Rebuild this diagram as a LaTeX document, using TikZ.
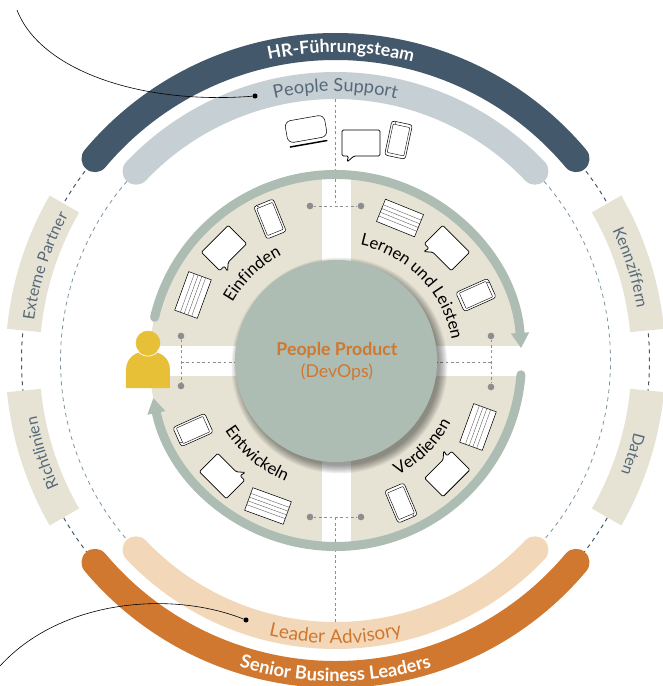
\documentclass[tikz,border=0pt]{standalone}
\usepackage{fontspec}
\setmainfont{Lato}
\usetikzlibrary{arrows.meta}
\usetikzlibrary{decorations.text}

\definecolor{hrblue}{HTML}{43586A}
\definecolor{supportgrey}{HTML}{C6CFD3}
\definecolor{leaderorange}{HTML}{D07730}
\definecolor{advisorypeach}{HTML}{F2D7B8}
\definecolor{sandbeige}{HTML}{E6E3D4}
\definecolor{sagegreen}{HTML}{ADBDB4}
\definecolor{persongold}{HTML}{E8C037}
\definecolor{dotgrey}{HTML}{8D8D90}
\definecolor{labelblue}{HTML}{56697A}
\definecolor{ringdash}{HTML}{7D95A1}

\tikzset{
    bandline/.style={line width=20.25pt,line cap=round},
    ringline/.style={sagegreen,line width=6.75pt,line cap=round},
    sidebox/.style={fill=sandbeige,draw=none},
    graydash/.style={dotgrey,line width=0.6pt,dash pattern=on 2pt off 2pt},
    outerdash/.style={hrblue,line width=0.75pt,dash pattern=on 3pt off 3pt},
    innerdash/.style={ringdash,line width=0.6pt,dash pattern=on 3pt off 3pt},
    greydot/.style={circle,fill=dotgrey,inner sep=0pt,minimum size=5pt},
    blackdot/.style={circle,fill=black,inner sep=0pt,minimum size=3.8pt},
    arctext/.style 2 args={decorate,decoration={text along path,text align=center,text={|#1|#2}}},
    notepic/.pic={
        \draw[fill=white,line width=0.4pt] (-20.5,-12) rectangle (20.5,12);
        \foreach \y in {-6,-2,2,6}
            \draw[line width=0.25pt,black!70] (-20.5,\y) -- (20.5,\y);
    },
    bubblepic/.pic={
        \draw[fill=white,line width=0.6pt,rounded corners=1pt]
            (-19,-13) -- (-19,13) -- (19,13) -- (19,-13) -- (-7,-13) -- (-14,-19) -- (-12.5,-13) -- cycle;
    },
    phonepic/.pic={
        \draw[fill=white,line width=0.4pt,rounded corners=2pt] (-10.5,-17.5) rectangle (10.5,17.5);
        \draw[line width=0.3pt,rounded corners=0.6pt] (-8.5,-14.5) rectangle (8.5,14.5);
        \fill (-6.5,16) circle (0.7);
    },
    laptoppic/.pic={
        \draw[fill=white,line width=0.4pt,rounded corners=4.5pt] (-20,-11) rectangle (20,11);
        \draw[line width=1.1pt] (-19,-15) -- (19,-15);
    }
}

\newcommand{\boxfont}{\fontsize{12pt}{14pt}\selectfont\color{labelblue}}
\newcommand{\stepfont}{\fontsize{12.5pt}{15pt}\selectfont\color{black}}

\begin{document}
\begin{tikzpicture}[x=0.75pt,y=0.75pt]
    \useasboundingbox (-335.5,-325.5) rectangle (326.5,360.5);

    % Dashed rings behind everything
    \draw[outerdash] (140:314) arc[start angle=140,end angle=220,radius=314];
    \draw[outerdash] (40:314) arc[start angle=40,end angle=-40,radius=314];
    \draw[innerdash] (136:275) arc[start angle=136,end angle=224,radius=275];
    \draw[innerdash] (44:275) arc[start angle=44,end angle=-44,radius=275];

    % The four outer boxes
    \fill[sidebox] (150:296) arc[start angle=150,end angle=174.5,radius=296] -- (174.5:330) arc[start angle=174.5,end angle=150,radius=330] -- cycle;
    \fill[sidebox] (185.5:296) arc[start angle=185.5,end angle=210,radius=296] -- (210:330) arc[start angle=210,end angle=185.5,radius=330] -- cycle;
    \fill[sidebox] (30:296) arc[start angle=30,end angle=5.5,radius=296] -- (5.5:330) arc[start angle=5.5,end angle=30,radius=330] -- cycle;
    \fill[sidebox] (-5.5:296) arc[start angle=-5.5,end angle=-30,radius=296] -- (-30:330) arc[start angle=-30,end angle=-5.5,radius=330] -- cycle;

    % The bands
    \draw[bandline,hrblue] (140:314) arc[start angle=140,end angle=40,radius=314];
    \draw[bandline,supportgrey] (136.5:275) arc[start angle=136.5,end angle=43.5,radius=275];
    \draw[bandline,leaderorange] (220:314) arc[start angle=220,end angle=320,radius=314];
    \draw[bandline,advisorypeach] (223.5:275) arc[start angle=223.5,end angle=316.5,radius=275];

    % Beige disc, cut by the white cross
    \fill[sandbeige] (0,0) circle (186);
    \fill[white] (-13.5,-200) rectangle (16,200);
    \fill[white] (-200,-15.5) rectangle (200,14.5);

    % Dots and the dashed lines between them
    \node[greydot] (dottl) at (-25.5,154.5) {};
    \node[greydot] (dottr) at (25.5,154.5) {};
    \node[greydot] (dotbl) at (-25.5,-156.5) {};
    \node[greydot] (dotbr) at (25.5,-156.5) {};
    \node[greydot] (dotlt) at (-154.5,24.5) {};
    \node[greydot] (dotlb) at (-154.5,-25.5) {};
    \node[greydot] (dotrt) at (155.5,24.5) {};
    \node[greydot] (dotrb) at (155.5,-26.5) {};
    \coordinate (jointop) at (-0.5,154.5);
    \coordinate (joinbot) at (-0.5,-156.5);
    \coordinate (joinleft) at (-154.5,-1.5);
    \coordinate (joinright) at (155.5,-1.5);
    \coordinate (bandtop) at (-0.5,261);
    \coordinate (bandbot) at (-0.5,-261);
    \coordinate (hubleft) at (-95,-1.5);
    \coordinate (hubright) at (95,-1.5);
    \draw[graydash] (dottl) -- (dottr);
    \draw[graydash] (dotbl) -- (dotbr);
    \draw[graydash] (dotlt) -- (dotlb);
    \draw[graydash] (dotrt) -- (dotrb);
    \draw[graydash] (bandtop) -- (jointop);
    \draw[graydash] (bandbot) -- (joinbot);
    \draw[graydash] (joinleft) -- (hubleft);
    \draw[graydash] (joinright) -- (hubright);

    % The ring with its two arrows
    \draw[ringline,-{Triangle[length=11.5pt,width=13pt]}] (166.6:186) arc[start angle=166.6,end angle=3.8,radius=186];
    \draw[ringline,-{Triangle[length=11.5pt,width=13pt]}] (-4.4:186) arc[start angle=-4.4,end angle=-168.4,radius=186];

    % Hub with its soft shadow
    \foreach \r in {1,...,9}
        \fill[black,opacity=0.05] (4,-5) circle (99+\r);
    \node[circle,fill=sagegreen,inner sep=0pt,minimum size=151.5pt] (hub) at (0.5,-0.5) {};
    \node[text=leaderorange,font=\fontsize{13.3pt}{15pt}\selectfont\bfseries] (hubtitle) at (1.5,10.5) {People Product};
    \node[text=leaderorange,font=\fontsize{13.3pt}{15pt}\selectfont] (hubsub) at (1.5,-11.5) {(DevOps)};

    % The person
    \fill[persongold] (-209.5,-27.5) -- (-209.5,-9.5) .. controls (-209.5,4) and (-198,9.5) .. (-187.5,9.5) .. controls (-177,9.5) and (-165.5,4) .. (-165.5,-9.5) -- (-165.5,-27.5) -- cycle;
    \draw[persongold,fill=persongold] (-187.5,17.5) circle (12);
    \draw[white,line width=0.5pt] (-199,11) arc[start angle=209,end angle=331,radius=13];

    % Icons above the ring
    \pic[rotate=10] at (-29.5,231.5) {laptoppic};
    \pic at (25.5,217.5) {bubblepic};
    \pic[rotate=-12] at (63,220.5) {phonepic};

    % Icons per quadrant
    \pic[rotate=70] at (-142.5,65.5) {notepic};
    \pic[rotate=45] at (-111.5,112.5) {bubblepic};
    \pic[rotate=22] at (-65.5,141.5) {phonepic};
    \pic[rotate=-22] at (64.5,142.5) {notepic};
    \pic[rotate=-45] at (111.5,112.5) {bubblepic};
    \pic[rotate=-66] at (140.5,65.5) {phonepic};
    \pic[rotate=70] at (142.5,-66.5) {notepic};
    \pic[rotate=225] at (111.8,-113.5) {bubblepic};
    \pic[rotate=203] at (65.5,-142.5) {phonepic};
    \pic[rotate=-20] at (-67.5,-145.5) {notepic};
    \pic[rotate=135] at (-113.5,-115.5) {bubblepic};
    \pic[rotate=114] at (-142.5,-69.5) {phonepic};

    % Text on the bands
    \path[arctext={\fontsize{13.3pt}{15pt}\selectfont\bfseries\color{white}}{HR-Führungsteam}] (139:308) arc[start angle=139,end angle=39,radius=308];
    \path[arctext={\fontsize{13.6pt}{15pt}\selectfont\color{labelblue}}{People Support}] (140:269) arc[start angle=140,end angle=40,radius=269];
    \path[arctext={\fontsize{14.2pt}{15pt}\selectfont\color{leaderorange}}{Leader Advisory}] (225:283) arc[start angle=225,end angle=315,radius=283];
    \path[arctext={\fontsize{13.7pt}{15pt}\selectfont\bfseries\color{white}}{Senior Business Leaders}] (225:321) arc[start angle=225,end angle=315,radius=321];

    % Text on the boxes
    \path[arctext={\boxfont}{Externe Partner}] (182:304) arc[start angle=182,end angle=142,radius=304];
    \path[arctext={\boxfont}{Richtlinien}] (217.5:304) arc[start angle=217.5,end angle=177.5,radius=304];
    \path[arctext={\boxfont}{Kennziffern}] (37.5:306) arc[start angle=37.5,end angle=-2.5,radius=306];
    \path[arctext={\boxfont}{Daten}] (2.5:307) arc[start angle=2.5,end angle=-37.5,radius=307];

    % Text in the quadrants
    \path[arctext={\stepfont}{Einfinden}] (179:118) arc[start angle=179,end angle=89,radius=118];
    \path[arctext={\stepfont}{Lernen und Leisten}] (89:118) arc[start angle=89,end angle=-1,radius=118];
    \path[arctext={\stepfont}{Verdienen}] (-90:131) arc[start angle=-90,end angle=0,radius=131];
    \path[arctext={\stepfont}{Entwickeln}] (185:131) arc[start angle=185,end angle=275,radius=131];

    % The two thin curves with their dots
    \node[blackdot] (supportdot) at (-80.5,264.5) {};
    \node[blackdot] (advisorydot) at (-89.5,-259.5) {};
    \coordinate (supportend) at (-318.5,350.5);
    \coordinate (advisoryend) at (-335.5,-305.5);
    \draw[line width=0.45pt] (supportend) .. controls (-295.5,290.5) and (-195.5,255.5) .. (supportdot);
    \draw[line width=0.45pt] (advisoryend) .. controls (-275.5,-239.5) and (-165.5,-229.5) .. (advisorydot);
\end{tikzpicture}
\end{document}
